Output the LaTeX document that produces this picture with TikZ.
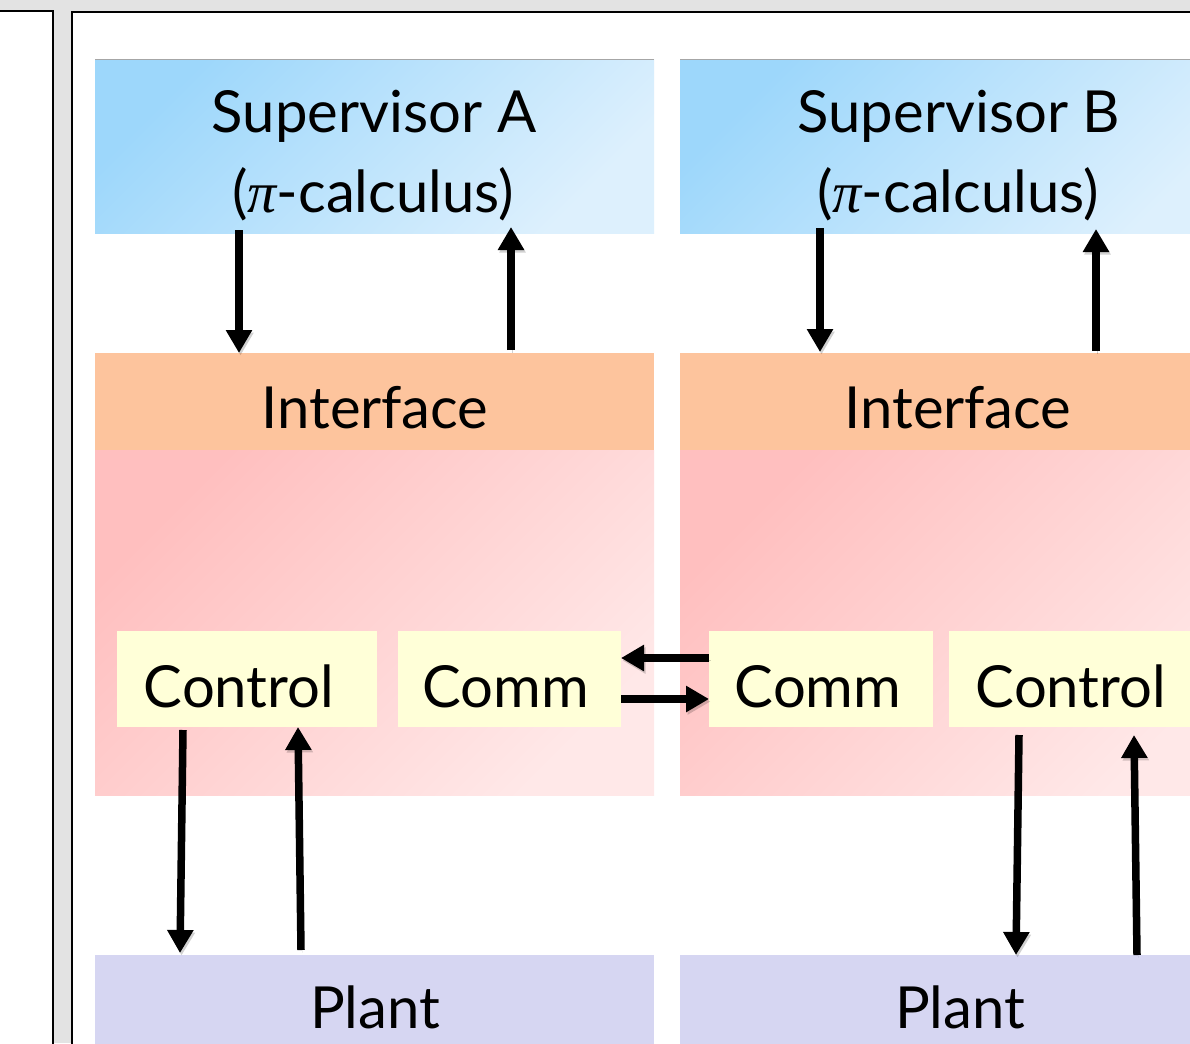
\documentclass[tikz,border=0pt]{standalone}
\usepackage{fontspec}
\setmainfont{Lato}
\newfontfamily\pifont{Liberation Serif}
\usetikzlibrary{arrows.meta,calc}

\definecolor{bggray}{HTML}{E3E3E3}
\definecolor{supdark}{HTML}{9DD7FB}
\definecolor{suplight}{HTML}{DDF0FD}
\definecolor{ifcol}{HTML}{FDC49D}
\definecolor{pinkdark}{HTML}{FFBFBF}
\definecolor{pinklight}{HTML}{FFE8E8}
\definecolor{boxyellow}{HTML}{FFFFD8}
\definecolor{plantcol}{HTML}{D6D6F2}

\newcommand{\itpi}{{\pifont\itshape π}}

\tikzset{
  panel/.style={draw=black, line width=2, fill=white},
  box/.style={anchor=north west, inner sep=0, outer sep=0, minimum width=559},
  supbox/.style={box, minimum height=173, top color=supdark, bottom color=suplight, shading angle=45},
  ifbox/.style={box, minimum height=97, fill=ifcol},
  pinkbox/.style={box, minimum height=345, top color=pinkdark, bottom color=pinklight, shading angle=45},
  unitbox/.style={box, minimum height=96, fill=boxyellow},
  plantbox/.style={box, minimum height=97, fill=plantcol},
  lbl/.style={anchor=base, inner sep=0, font=\fontsize{58}{70}\selectfont},
  arr/.style={line width=7.5, -{Triangle[length=23pt,width=25pt]},
    preaction={draw=black, opacity=0.18, transform canvas={shift={(1.5,-2.5)}}}}
}

\begin{document}
\begin{tikzpicture}[x=1pt,y=1pt]
\useasboundingbox (0,0) rectangle (1190,-1043);
\clip (0,0) rectangle (1190,-1043);
\fill[bggray] (0,0) rectangle (1190,-1043);

% window panels
\draw[panel] (-20,-11) rectangle (53,-1080);
\draw[panel] (72,-12) rectangle (1260,-1080);

% column A
\node[supbox] (supA) at (95,-60) {};
\draw[gray!70, line width=1] (supA.north west) -- (supA.north east);
\node[ifbox] (ifA) at (95,-353) {};
\node[pinkbox] (pinkA) at (95,-450) {};
\node[unitbox, minimum width=260] (ctlA) at (117,-631) {};
\node[unitbox, minimum width=223] (commA) at (398,-631) {};
\node[plantbox] (plantA) at (95,-955) {};

% column B
\node[supbox] (supB) at (680,-60) {};
\draw[gray!70, line width=1] (supB.north west) -- (supB.north east);
\node[ifbox] (ifB) at (680,-353) {};
\node[pinkbox] (pinkB) at (680,-450) {};
\node[unitbox, minimum width=224] (commB) at (709,-631) {};
\node[unitbox, minimum width=260] (ctlB) at (949,-631) {};
\node[plantbox] (plantB) at (680,-955) {};

% labels
\node[lbl] (supAa) at (374,-133) {Supervisor A};
\node[lbl] (supAb) at (373,-212) {(\itpi-calculus)};
\node[lbl] (supBa) at (959,-133) {Supervisor B};
\node[lbl] (supBb) at (958,-212) {(\itpi-calculus)};
\node[lbl] (ifAl) at (375,-428) {Interface};
\node[lbl] (ifBl) at (958,-428) {Interface};
\node[lbl] (ctlAl) at (239,-707) {Control};
\node[lbl] (commAl) at (506,-707) {Comm};
\node[lbl] (commBl) at (818,-707) {Comm};
\node[lbl] (ctlBl) at (1071,-707) {Control};
\node[lbl] (plantAl) at (375,-1028) {Plant};
\node[lbl] (plantBl) at (960,-1028) {Plant};

% supervisor <-> interface
\draw[arr] ($(supA.south west)+(144,3)$) -- ($(ifA.north west)+(144,0)$);
\draw[arr] ($(ifA.north west)+(416,3)$) -- ($(supA.south west)+(416,6)$);
\draw[arr] ($(supB.south west)+(140,5)$) -- ($(ifB.north west)+(140,1)$);
\draw[arr] ($(ifB.north west)+(416,2)$) -- ($(supB.south west)+(416,4)$);

% comm <-> comm
\draw[arr] ($(commB.west)+(0,21)$) -- ($(commA.east)+(0,21)$);
\draw[arr] ($(commA.east)+(0,-20)$) -- ($(commB.west)+(0,-20)$);

% control <-> plant
\draw[arr] ($(ctlA.south west)+(66,-3)$) -- ($(plantA.north west)+(85,2)$);
\draw[arr] ($(plantA.north west)+(206,5)$) -- ($(ctlA.south west)+(181,0)$);
\draw[arr] ($(ctlB.south west)+(70,-8)$) -- ($(plantB.north west)+(336,0)$);
\draw[arr] ($(plantB.north west)+(457,0)$) -- ($(ctlB.south west)+(185,-8)$);
\end{tikzpicture}
\end{document}
